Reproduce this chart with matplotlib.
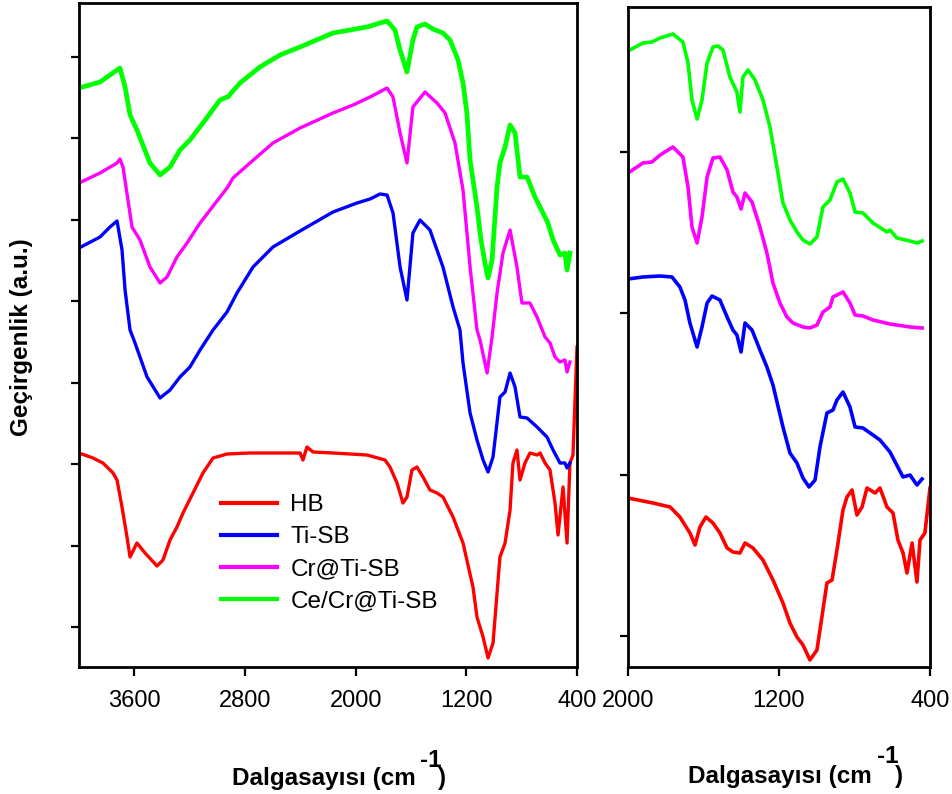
import numpy as np
import matplotlib
matplotlib.use("Agg")
import matplotlib.pyplot as plt

plt.rcParams['font.family'] = ['Liberation Sans', 'DejaVu Sans']
plt.rcParams['xtick.direction'] = 'out'
plt.rcParams['ytick.direction'] = 'out'

# ---- full range spectra (left panel), wavenumber [cm-1] / transmittance [a.u.] ----
hb_wn = [4000, 3899, 3827, 3754, 3725, 3689, 3653, 3631, 3581, 3523, 3436, 3393, 3342, 3292,
         3248, 3176, 3104, 3031, 2930, 2764, 2402, 2381, 2352, 2308, 2164, 1918, 1788, 1752,
         1701, 1658, 1629, 1593, 1557, 1513, 1463, 1412, 1369, 1296, 1224, 1152, 1123, 1079,
         1043, 1007, 957, 920, 884, 863, 834, 812, 776, 740, 689, 667, 631, 595, 559, 537,
         501, 472, 451, 429, 400]
hb_t = [2.14, 2.09, 2.04, 1.94, 1.87, 1.60, 1.30, 1.10, 1.24, 1.14, 1.01, 1.07, 1.27, 1.40,
        1.54, 1.74, 1.94, 2.09, 2.13, 2.14, 2.14, 2.07, 2.20, 2.15, 2.14, 2.12, 2.07, 2.00,
        1.84, 1.64, 1.70, 1.97, 2.00, 1.90, 1.77, 1.74, 1.70, 1.50, 1.24, 0.80, 0.50, 0.30,
        0.09, 0.24, 1.10, 1.24, 1.57, 2.04, 2.17, 1.87, 2.04, 2.14, 2.12, 2.14, 2.04, 1.97,
        1.64, 1.32, 1.80, 1.24, 2.04, 2.12, 3.20]

tisb_wn = [4000, 3848, 3776, 3725, 3689, 3667, 3631, 3595, 3508, 3414, 3342, 3270, 3198, 3125,
           3031, 2930, 2858, 2742, 2598, 2402, 2164, 1990, 1896, 1824, 1773, 1730, 1679, 1629,
           1586, 1535, 1463, 1369, 1296, 1246, 1224, 1173, 1123, 1079, 1043, 1007, 957, 920,
           884, 848, 812, 761, 689, 617, 573, 523, 487, 472, 451]
tisb_t = [4.19, 4.30, 4.40, 4.46, 4.17, 3.77, 3.37, 3.24, 2.90, 2.69, 2.77, 2.90, 3.00, 3.17,
          3.37, 3.55, 3.74, 4.00, 4.20, 4.36, 4.55, 4.64, 4.68, 4.73, 4.72, 4.54, 4.00, 3.67,
          4.34, 4.47, 4.37, 4.00, 3.60, 3.37, 3.04, 2.54, 2.27, 2.07, 1.95, 2.10, 2.70, 2.75,
          2.94, 2.80, 2.50, 2.49, 2.40, 2.30, 2.17, 2.04, 2.04, 1.99, 2.04]

cr_wn = [4000, 3848, 3725, 3704, 3682, 3646, 3617, 3559, 3487, 3414, 3364, 3292, 3219, 3125,
         2930, 2887, 2764, 2598, 2402, 2164, 2019, 1896, 1773, 1730, 1679, 1629, 1586, 1499,
         1412, 1354, 1282, 1224, 1173, 1123, 1101, 1050, 1014, 978, 935, 884, 834, 798, 740,
         689, 631, 595, 559, 523, 487, 472, 451]
cr_t = [4.84, 4.94, 5.04, 5.08, 5.00, 4.67, 4.40, 4.27, 4.00, 3.84, 3.90, 4.10, 4.24, 4.44,
        4.79, 4.89, 5.04, 5.24, 5.39, 5.54, 5.62, 5.70, 5.79, 5.70, 5.34, 5.04, 5.60, 5.75,
        5.64, 5.54, 5.24, 4.77, 4.00, 3.37, 3.27, 2.94, 3.30, 3.74, 4.14, 4.37, 4.00, 3.64,
        3.64, 3.50, 3.30, 3.24, 3.10, 3.05, 3.07, 2.95, 3.05]

ce_wn = [4000, 3848, 3776, 3725, 3704, 3667, 3631, 3581, 3487, 3414, 3342, 3270, 3198, 3104,
         2981, 2930, 2923, 2900, 2836, 2692, 2547, 2402, 2164, 1918, 1824, 1773, 1716, 1679,
         1629, 1586, 1557, 1499, 1441, 1369, 1318, 1260, 1224, 1196, 1173, 1123, 1094, 1065,
         1043, 1014, 978, 957, 920, 884, 848, 812, 761, 704, 646, 610, 573, 523, 487, 472, 451]
ce_t = [5.79, 5.85, 5.92, 5.97, 5.99, 5.80, 5.52, 5.37, 5.04, 4.92, 5.00, 5.17, 5.27, 5.44,
        5.67, 5.70, 5.70, 5.74, 5.84, 6.00, 6.12, 6.20, 6.34, 6.40, 6.44, 6.46, 6.37, 6.17,
        5.95, 6.27, 6.40, 6.43, 6.38, 6.34, 6.27, 6.07, 5.84, 5.54, 5.07, 4.60, 4.27, 4.04,
        3.89, 4.07, 4.80, 5.04, 5.20, 5.42, 5.34, 4.90, 4.90, 4.70, 4.54, 4.44, 4.27, 4.12,
        4.14, 3.97, 4.14]

# ---- 2000-400 cm-1 region (right panel) ----
hb_wn_z = [2000, 1868, 1777, 1725, 1672, 1645, 1619, 1587, 1550, 1513, 1475, 1444, 1407, 1380,
           1338, 1285, 1232, 1179, 1142, 1105, 1073, 1036, 999, 983, 946, 919, 893, 861, 840,
           813, 787, 760, 734, 691, 665, 628, 596, 570, 543, 522, 495, 469, 453, 427, 400]
hb_t_z = [1.69, 1.64, 1.60, 1.50, 1.34, 1.22, 1.40, 1.50, 1.44, 1.34, 1.19, 1.15, 1.14, 1.24,
          1.19, 1.07, 0.87, 0.64, 0.44, 0.30, 0.22, 0.07, 0.17, 0.37, 0.84, 0.87, 1.17, 1.57,
          1.70, 1.77, 1.52, 1.60, 1.79, 1.74, 1.79, 1.60, 1.54, 1.27, 1.14, 0.94, 1.24, 0.85,
          1.27, 1.34, 1.79]

tisb_wn_z = [2000, 1921, 1830, 1767, 1725, 1698, 1672, 1634, 1608, 1581, 1555, 1513, 1475,
             1444, 1423, 1401, 1380, 1343, 1301, 1264, 1232, 1179, 1142, 1105, 1073, 1041,
             1009, 983, 946, 914, 893, 861, 824, 797, 755, 702, 665, 612, 543, 506, 469, 442]
tisb_t_z = [3.88, 3.90, 3.91, 3.90, 3.80, 3.67, 3.44, 3.20, 3.40, 3.64, 3.71, 3.67, 3.50,
            3.37, 3.32, 3.15, 3.44, 3.37, 3.17, 3.00, 2.82, 2.40, 2.14, 2.04, 1.89, 1.80,
            1.87, 2.20, 2.54, 2.57, 2.67, 2.75, 2.60, 2.40, 2.39, 2.32, 2.27, 2.15, 1.90,
            1.92, 1.82, 1.88]

cr_wn_z = [2000, 1921, 1873, 1830, 1762, 1709, 1682, 1661, 1634, 1608, 1581, 1550, 1513, 1475,
           1444, 1423, 1401, 1380, 1343, 1301, 1264, 1232, 1195, 1158, 1126, 1073, 1036, 999,
           967, 930, 914, 861, 824, 797, 755, 702, 612, 506, 442]
cr_t_z = [4.94, 5.04, 5.05, 5.12, 5.20, 5.10, 4.80, 4.40, 4.24, 4.50, 4.90, 5.09, 5.10, 4.97,
          4.75, 4.70, 4.58, 4.74, 4.65, 4.40, 4.14, 3.84, 3.64, 3.50, 3.44, 3.40, 3.39, 3.42,
          3.55, 3.60, 3.70, 3.75, 3.64, 3.52, 3.51, 3.47, 3.43, 3.40, 3.39]

ce_wn_z = [2000, 1921, 1873, 1830, 1762, 1709, 1682, 1661, 1634, 1608, 1581, 1550, 1523, 1497,
           1460, 1423, 1407, 1391, 1364, 1327, 1285, 1248, 1211, 1179, 1142, 1105, 1073, 1036,
           999, 967, 930, 893, 861, 824, 797, 755, 702, 628, 612, 575, 506, 469, 442]
ce_t_z = [6.16, 6.24, 6.25, 6.29, 6.33, 6.25, 6.04, 5.67, 5.48, 5.67, 6.04, 6.20, 6.21, 6.17,
          5.90, 5.75, 5.55, 5.90, 5.97, 5.87, 5.67, 5.40, 5.00, 4.64, 4.47, 4.35, 4.27, 4.23,
          4.30, 4.60, 4.67, 4.85, 4.88, 4.74, 4.55, 4.54, 4.44, 4.35, 4.37, 4.29, 4.26, 4.24,
          4.26]

labels = ['HB', 'Ti-SB', 'Cr@Ti-SB', 'Ce/Cr@Ti-SB']
colors = ['#ff0000', '#0000ff', '#ff00ff', '#00ff00']

W, H = 953, 794


def px(x, y):
    # pixel position -> figure fraction
    return x / W, 1 - y / H


fig = plt.figure(figsize=(W / 100, H / 100), dpi=100)
ax1 = fig.add_axes([79 / W, 1 - 667 / H, 498 / W, 664 / H])
ax2 = fig.add_axes([628 / W, 1 - 667 / H, 302 / W, 660 / H])

full = [(hb_wn, hb_t), (tisb_wn, tisb_t), (cr_wn, cr_t), (ce_wn, ce_t)]
zoom = [(hb_wn_z, hb_t_z), (tisb_wn_z, tisb_t_z), (cr_wn_z, cr_t_z), (ce_wn_z, ce_t_z)]
lw_full = [2.4, 2.4, 2.4, 3.4]

for (x, y), lab, c, lw in zip(full, labels, colors, lw_full):
    ax1.plot(x, y, color=c, lw=lw, label=lab, solid_joinstyle='round')
for (x, y), c in zip(zoom, colors):
    ax2.plot(x, y, color=c, lw=2.6, solid_joinstyle='round')

ax1.set_xlim(4000, 400)
ax1.set_ylim(0, 6.64)
ax1.set_xticks([3600, 2800, 2000, 1200, 400])
ax1.set_yticks(np.arange(0.40, 6.2, 0.815))

ax2.set_xlim(2000, 400)
ax2.set_ylim(0, 6.60)
ax2.set_xticks([2000, 1200, 400])
ax2.set_yticks(np.arange(0.31, 5.2, 1.613))

for ax in (ax1, ax2):
    for s in ax.spines.values():
        s.set_linewidth(2.0)
    ax.tick_params(axis='x', length=6.5, width=1.6, pad=10, labelsize=17)
    ax.tick_params(axis='y', length=5.5, width=1.6, labelleft=False)

leg = ax1.legend(loc='upper left', bbox_to_anchor=((221 - 79) / 498, (667 - 494) / 664),
                 frameon=False, fontsize=17.5, handlelength=2.3, handletextpad=0.55,
                 labelspacing=0.42, borderpad=0, borderaxespad=0)
for h in leg.get_lines():
    h.set_linewidth(3.0)

# axis labels
fig.text(*px(22, 337), 'Geçirgenlik (a.u.)', rotation=90, ha='center', va='center',
         fontsize=17.5, fontweight='bold')
for x0, base, xs, bs, xp in [(232, 785, 420, 767, 438), (688, 783, 877, 763, 895)]:
    fig.text(*px(x0, base), 'Dalgasayısı (cm', ha='left', va='baseline',
             fontsize=17.5, fontweight='bold')
    fig.text(*px(xs, bs), '-1', ha='left', va='baseline', fontsize=17.5, fontweight='bold')
    fig.text(*px(xp, base), ')', ha='left', va='baseline', fontsize=17.5, fontweight='bold')

fig.savefig('out.png', dpi=100)
